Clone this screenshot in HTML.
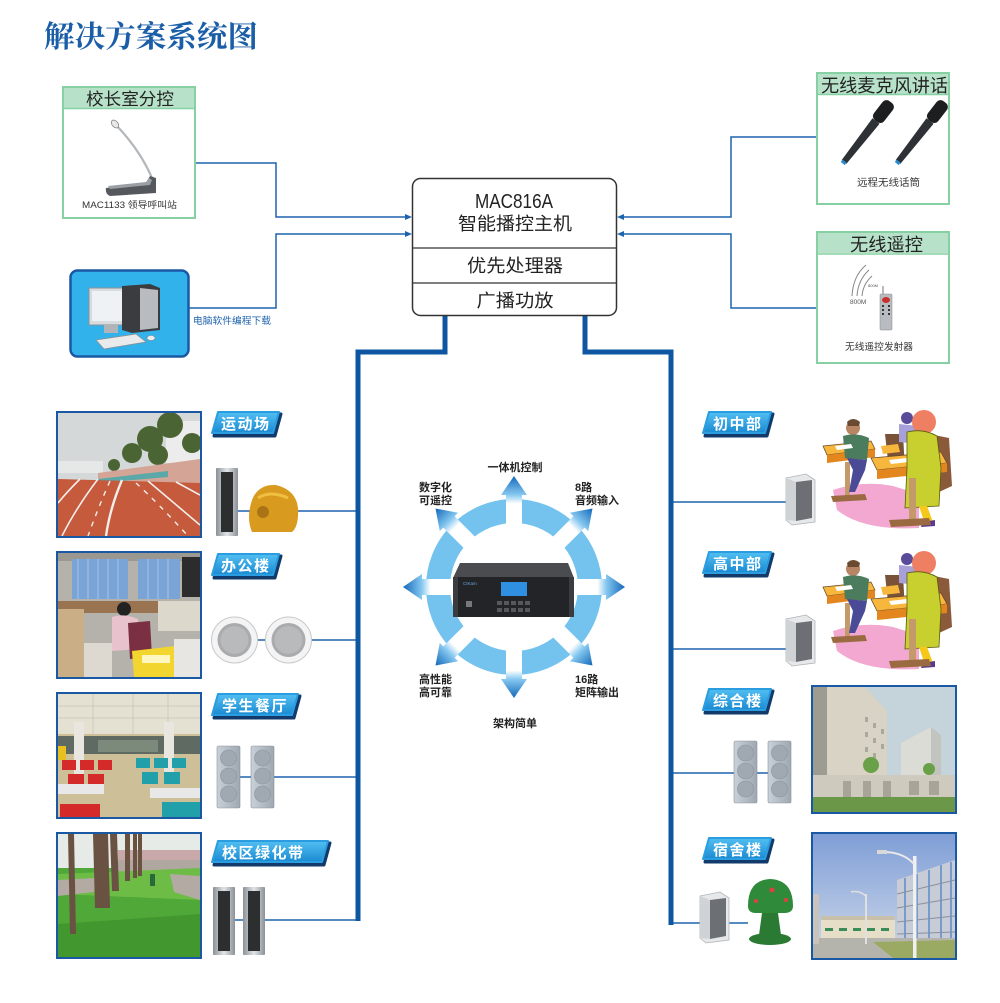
<!DOCTYPE html>
<html><head><meta charset="utf-8">
<style>
html,body{margin:0;padding:0;background:#fff;}
svg{display:block;}
text{font-family:"Liberation Sans","Noto Sans CJK SC",sans-serif;}
</style></head>
<body>
<svg width="1000" height="1003" viewBox="0 0 1000 1003" xmlns="http://www.w3.org/2000/svg">
<defs>
  <linearGradient id="tagg" x1="0" y1="0" x2="0" y2="1">
    <stop offset="0" stop-color="#52bff2"/><stop offset="1" stop-color="#1a8ad2"/>
  </linearGradient>
  <linearGradient id="arrg" gradientUnits="userSpaceOnUse" x1="56" y1="0" x2="111" y2="0">
    <stop offset="0" stop-color="#ffffff"/><stop offset="0.5" stop-color="#ffffff"/>
    <stop offset="0.66" stop-color="#86c8f0"/><stop offset="1" stop-color="#1268ba"/>
  </linearGradient>
  <linearGradient id="sky2" x1="0" y1="0" x2="0" y2="1">
    <stop offset="0" stop-color="#7f9ed6"/><stop offset="1" stop-color="#cfdaea"/>
  </linearGradient>
  <linearGradient id="silver" x1="0" y1="0" x2="1" y2="0">
    <stop offset="0" stop-color="#8a9096"/><stop offset="0.5" stop-color="#e2e6ea"/><stop offset="1" stop-color="#8a9096"/>
  </linearGradient>
  <linearGradient id="boxspk" x1="0" y1="0" x2="1" y2="0">
    <stop offset="0" stop-color="#c9d0d8"/><stop offset="1" stop-color="#9ea8b2"/>
  </linearGradient>
  <g id="arrow"><path d="M56,-8 L92,-8 L92,-13 L111,0 L92,13 L92,8 L56,8 Z" fill="url(#arrg)"/></g>
  <g id="classroom">
    <path d="M10,82 Q40,72 70,78 L96,86 L96,120 Q40,123 14,102 Z" fill="#f2a8d0"/>
    <path d="M106,26 L126,30 L129,78 L116,84 Z" fill="#8a5a3a"/>
    <path d="M62,26 L80,26 L82,62 L66,62 Z" fill="#7a5238"/>
    <path d="M0,38 L48,33 L52,41 L4,47 Z" fill="#f7b73c" stroke="#6a4a2a" stroke-width="0.8"/>
    <path d="M4,47 L52,41 L52,49 L4,55 Z" fill="#e3861e"/>
    <rect x="22" y="54" width="5" height="36" fill="#c59a6a"/>
    <path d="M8,88 L42,86 L44,92 L10,94 Z" fill="#9a6a40"/>
    <circle cx="30" cy="20" r="7" fill="#b88664"/>
    <path d="M24,14 Q30,8 37,14 L36,18 L25,18 Z" fill="#6a4a30"/>
    <path d="M20,28 Q33,24 46,30 L44,52 L22,50 Z" fill="#4b7c5e"/>
    <path d="M24,50 L44,52 L42,62 L32,84 L26,84 L30,62 Z" fill="#4a4a96"/>
    <circle cx="84" cy="10" r="6" fill="#5a4a9a"/>
    <path d="M76,16 L96,18 L96,36 L76,34 Z" fill="#a8a0d8"/>
    <path d="M58,38 L75,36 L77,44 L60,46 Z" fill="#f7b73c"/>
    <path d="M48,50 L118,44 L124,55 L54,62 Z" fill="#f7b73c" stroke="#6a4a2a" stroke-width="0.8"/>
    <path d="M54,62 L124,55 L124,64 L54,71 Z" fill="#e3861e"/>
    <path d="M66,52 L84,50 L86,54 L68,56 Z" fill="#ffffff"/>
    <path d="M12,38 L28,36 L30,40 L14,42 Z" fill="#ffffff"/>
    <circle cx="101" cy="14" r="12" fill="#ef7f62"/>
    <path d="M84,24 Q100,20 114,28 L118,60 L116,98 L82,100 L84,60 Z" fill="#c7d02e" stroke="#5a5a10" stroke-width="0.8"/>
    <path d="M96,98 L104,98 L110,114 L102,116 Z" fill="#f5c81a"/>
    <path d="M100,114 L112,112 L112,118 L98,119 Z" fill="#5a3a8a"/>
    <rect x="86" y="70" width="7" height="44" fill="#c59a6a"/>
    <path d="M66,112 L106,110 L108,117 L68,119 Z" fill="#9a6a40"/>
  </g>
  <g id="wallspk">
    <path d="M2,4 L22,0 L31,6 L31,48 L8,51 L2,46 Z" fill="#e6e8ea" stroke="#b0b4b8" stroke-width="0.8"/>
    <path d="M12,8 L28,6 L28,44 L12,47 Z" fill="#6c7074"/>
    <path d="M2,4 L12,8 L12,47 L2,46 Z" fill="#d0d3d6"/>
  </g>
  <g id="colbox">
    <rect x="0" y="0" width="23" height="62" rx="1.5" fill="url(#boxspk)" stroke="#8a949e" stroke-width="0.6"/>
    <circle cx="11.5" cy="12" r="8" fill="#a0a8b2" stroke="#8a929c" stroke-width="0.6"/>
    <circle cx="11.5" cy="30" r="8" fill="#a0a8b2" stroke="#8a929c" stroke-width="0.6"/>
    <circle cx="11.5" cy="48" r="8" fill="#a0a8b2" stroke="#8a929c" stroke-width="0.6"/>
  </g>
  <g id="colspk">
    <rect x="0" y="0" width="22" height="68" rx="1" fill="url(#silver)"/>
    <rect x="5" y="4" width="12" height="60" fill="#2c2e30"/>
  </g>
  <g id="ceil">
    <circle cx="0" cy="0" r="23" fill="#f4f4f4" stroke="#c8c8c8" stroke-width="1"/>
    <circle cx="0" cy="0" r="17" fill="#a9abad"/>
    <circle cx="0" cy="0" r="14" fill="#b8babc"/>
  </g>
</defs>

<!-- Title -->
<text x="44" y="47" font-size="30" font-weight="bold" fill="#1b5ea8" textLength="214" lengthAdjust="spacingAndGlyphs" style="font-family:'Liberation Serif','Noto Serif CJK SC',serif">解决方案系统图</text>

<!-- thin connectors -->
<g fill="none" stroke="#1e63ae" stroke-width="1.5">
  <polyline points="195,163 276,163 276,217 408,217"/>
  <polyline points="189,308 276,308 276,234 408,234"/>
  <polyline points="817,137 731,137 731,217 621,217"/>
  <polyline points="818,308 731,308 731,234 621,234"/>
  <line x1="237" y1="511" x2="358" y2="511"/>
  <line x1="258" y1="640" x2="358" y2="640"/>
  <line x1="240" y1="777" x2="358" y2="777"/>
  <line x1="235" y1="920" x2="358" y2="920"/>
  <line x1="671" y1="502" x2="786" y2="502"/>
  <line x1="671" y1="649" x2="786" y2="649"/>
  <line x1="671" y1="773" x2="768" y2="773"/>
  <line x1="671" y1="923" x2="748" y2="923"/>
</g>
<g fill="#1e63ae">
  <path d="M412,217 L405,214 L405,220 Z"/>
  <path d="M412,234 L405,231 L405,237 Z"/>
  <path d="M617,217 L624,214 L624,220 Z"/>
  <path d="M617,234 L624,231 L624,237 Z"/>
</g>
<!-- thick connectors -->
<g fill="none" stroke="#0e56a2" stroke-width="5">
  <polyline points="445,316 445,352 358,352 358,921"/>
  <polyline points="585,316 585,352 671,352 671,925"/>
</g>

<!-- Host box -->
<rect x="412.5" y="178.5" width="204" height="137" rx="8" fill="#fff" stroke="#333" stroke-width="1.5"/>
<line x1="413" y1="248" x2="616" y2="248" stroke="#333" stroke-width="1.3"/>
<line x1="413" y1="283" x2="616" y2="283" stroke="#333" stroke-width="1.3"/>
<text x="514" y="208" font-size="20" text-anchor="middle" fill="#222" textLength="78" lengthAdjust="spacingAndGlyphs">MAC816A</text>
<text x="515" y="230" font-size="18" text-anchor="middle" fill="#222" textLength="114" lengthAdjust="spacingAndGlyphs">智能播控主机</text>
<text x="515" y="272" font-size="18" text-anchor="middle" fill="#222" textLength="96" lengthAdjust="spacingAndGlyphs">优先处理器</text>
<text x="515" y="307" font-size="18" text-anchor="middle" fill="#222" textLength="77" lengthAdjust="spacingAndGlyphs">广播功放</text>

<!-- 校长室分控 -->
<rect x="63" y="87" width="132" height="131" fill="#fff" stroke="#86d0a4" stroke-width="2"/>
<rect x="64" y="88" width="130" height="20" fill="#b7e2c9"/>
<line x1="63" y1="108.5" x2="195" y2="108.5" stroke="#86d0a4" stroke-width="1.5"/>
<text x="86" y="105" font-size="17" fill="#222" textLength="88" lengthAdjust="spacingAndGlyphs">校长室分控</text>
<path d="M116,125 Q140,150 152,178" fill="none" stroke="#b4b8bc" stroke-width="2.2"/>
<ellipse cx="115" cy="124" rx="3" ry="4.5" transform="rotate(-40 115 124)" fill="#e8e8e8" stroke="#888" stroke-width="0.8"/>
<path d="M106,188 L146,183 L150,176 L156,178 L156,193 L110,196 Q105,194 106,188 Z" fill="#55595e"/>
<path d="M108,186 L146,182 L149,178 L152,180 L150,185 L110,189 Z" fill="#9aa0a6"/>
<text x="82" y="208" font-size="9" fill="#333" textLength="95" lengthAdjust="spacingAndGlyphs">MAC1133 领导呼叫站</text>

<!-- computer -->
<rect x="70.5" y="270.5" width="118" height="86" rx="7" fill="#32b2ea" stroke="#1a58a4" stroke-width="2.5"/>
<rect x="89" y="288" width="43" height="37" fill="#d8dcde" stroke="#8a9096" stroke-width="1"/>
<rect x="92" y="291" width="37" height="30" fill="#eef2f4"/>
<rect x="104" y="325" width="14" height="8" fill="#b0b4b8"/>
<path d="M122,286 L150,284 L160,288 L160,330 L132,333 L122,330 Z" fill="#3a3c40"/>
<path d="M140,288 L158,290 L158,328 L140,330 Z" fill="#b8bcc0"/>
<path d="M96,340 L136,334 L146,342 L104,349 Z" fill="#e8eaec" stroke="#8a9096" stroke-width="0.8"/>
<ellipse cx="151" cy="338" rx="4" ry="2.5" fill="#eee" stroke="#888" stroke-width="0.6"/>
<text x="193" y="324" font-size="9.5" fill="#1e63ae" textLength="78" lengthAdjust="spacingAndGlyphs">电脑软件编程下载</text>

<!-- 无线麦克风讲话 -->
<rect x="817" y="73" width="132" height="131" fill="#fff" stroke="#86d0a4" stroke-width="2"/>
<rect x="818" y="74" width="130" height="20" fill="#b7e2c9"/>
<line x1="817" y1="94.5" x2="949" y2="94.5" stroke="#86d0a4" stroke-width="1.5"/>
<text x="821" y="92" font-size="18" fill="#222" textLength="127" lengthAdjust="spacingAndGlyphs">无线麦克风讲话</text>
<g transform="translate(844,162) rotate(-52)">
  <path d="M0,-3 L52,-4.5 L52,4.5 L0,3 Z" fill="#2e3236"/>
  <rect x="52" y="-6.5" width="24" height="13" rx="5" fill="#1c1e20"/>
  <rect x="-2" y="-2.5" width="3" height="5" fill="#2a8ad0"/>
</g>
<g transform="translate(898,162) rotate(-52)">
  <path d="M0,-3 L52,-4.5 L52,4.5 L0,3 Z" fill="#2e3236"/>
  <rect x="52" y="-6.5" width="24" height="13" rx="5" fill="#1c1e20"/>
  <rect x="-2" y="-2.5" width="3" height="5" fill="#2a8ad0"/>
</g>
<text x="857" y="186" font-size="10" fill="#333" textLength="63" lengthAdjust="spacingAndGlyphs">远程无线话筒</text>

<!-- 无线遥控 -->
<rect x="817" y="232" width="132" height="131" fill="#fff" stroke="#86d0a4" stroke-width="2"/>
<rect x="818" y="233" width="130" height="20" fill="#b7e2c9"/>
<line x1="817" y1="254" x2="949" y2="254" stroke="#86d0a4" stroke-width="1.5"/>
<text x="850" y="251" font-size="18" fill="#222" textLength="73" lengthAdjust="spacingAndGlyphs">无线遥控</text>
<g fill="none" stroke="#888" stroke-width="1">
  <path d="M852,296 Q853,276 866,265"/>
  <path d="M857,296 Q858,280 869,270"/>
  <path d="M862,296 Q863,284 872,276"/>
</g>
<text x="850" y="304" font-size="6.5" fill="#555">800M</text>
<text x="868" y="287" font-size="4" fill="#555">800M</text>
<line x1="883" y1="295" x2="883" y2="286" stroke="#777" stroke-width="1"/>
<rect x="880" y="294" width="12" height="36" rx="1" fill="#b8bcc0" stroke="#888" stroke-width="0.5"/>
<ellipse cx="886" cy="300" rx="4" ry="3" fill="#c8302a"/>
<g fill="#333"><rect x="882" y="305" width="2" height="2"/><rect x="888" y="305" width="2" height="2"/><rect x="882" y="309" width="2" height="2"/><rect x="888" y="309" width="2" height="2"/><rect x="882" y="313" width="2" height="2"/><rect x="888" y="313" width="2" height="2"/></g>
<text x="845" y="350" font-size="9.5" fill="#333" textLength="68" lengthAdjust="spacingAndGlyphs">无线遥控发射器</text>

<!-- Center ring -->
<circle cx="514" cy="587" r="76" fill="none" stroke="#74c3ef" stroke-width="24"/>
<g transform="translate(514,587)">
  <use href="#arrow" transform="rotate(-90)"/>
  <use href="#arrow" transform="rotate(-45)"/>
  <use href="#arrow" transform="rotate(0)"/>
  <use href="#arrow" transform="rotate(45)"/>
  <use href="#arrow" transform="rotate(90)"/>
  <use href="#arrow" transform="rotate(135)"/>
  <use href="#arrow" transform="rotate(180)"/>
  <use href="#arrow" transform="rotate(225)"/>
</g>
<!-- device -->
<path d="M460,563 L568,563 L574,578 L453,578 Z" fill="#4a4c50"/>
<rect x="453" y="577" width="121" height="40" fill="#232428"/>
<rect x="453" y="577" width="5" height="40" fill="#3a3c40"/>
<rect x="569" y="577" width="5" height="40" fill="#3a3c40"/>
<rect x="501" y="582" width="26" height="14" fill="#2f8fe0"/>
<g fill="#55585c">
  <rect x="497" y="601" width="5" height="4"/><rect x="504" y="601" width="5" height="4"/><rect x="511" y="601" width="5" height="4"/><rect x="518" y="601" width="5" height="4"/><rect x="525" y="601" width="5" height="4"/>
  <rect x="497" y="608" width="5" height="4"/><rect x="504" y="608" width="5" height="4"/><rect x="511" y="608" width="5" height="4"/><rect x="518" y="608" width="5" height="4"/><rect x="525" y="608" width="5" height="4"/>
</g>
<rect x="466" y="601" width="6" height="6" fill="#777"/>
<text x="463" y="585" font-size="4.5" fill="#6aa0d8">CIKam</text>

<!-- center labels -->
<g font-size="11" font-weight="bold" fill="#222">
  <text x="515" y="471" text-anchor="middle">一体机控制</text>
  <text x="419" y="491">数字化</text>
  <text x="419" y="504">可遥控</text>
  <text x="575" y="491">8路</text>
  <text x="575" y="504">音频输入</text>
  <text x="419" y="683">高性能</text>
  <text x="419" y="696">高可靠</text>
  <text x="575" y="683">16路</text>
  <text x="575" y="696">矩阵输出</text>
  <text x="515" y="727" text-anchor="middle">架构简单</text>
</g>

<!-- Tags -->
<g font-size="15" font-weight="bold" fill="#fff" letter-spacing="1.5">
  <g transform="translate(212,412)"><path d="M8,2 L69,2 L63,24 L2,24 Z" fill="#123a6a" stroke="#123a6a" stroke-width="3" stroke-linejoin="round"/><path d="M6,0 L67,0 L61,21 L0,21 Z" fill="url(#tagg)" stroke="#2a9de0" stroke-width="2" stroke-linejoin="round"/><text x="9" y="17">运动场</text></g>
  <g transform="translate(212,554)"><path d="M8,2 L69,2 L63,24 L2,24 Z" fill="#123a6a" stroke="#123a6a" stroke-width="3" stroke-linejoin="round"/><path d="M6,0 L67,0 L61,21 L0,21 Z" fill="url(#tagg)" stroke="#2a9de0" stroke-width="2" stroke-linejoin="round"/><text x="9" y="17">办公楼</text></g>
  <g transform="translate(212,694)"><path d="M8,2 L88,2 L82,24 L2,24 Z" fill="#123a6a" stroke="#123a6a" stroke-width="3" stroke-linejoin="round"/><path d="M6,0 L86,0 L80,21 L0,21 Z" fill="url(#tagg)" stroke="#2a9de0" stroke-width="2" stroke-linejoin="round"/><text x="10" y="17">学生餐厅</text></g>
  <g transform="translate(212,841)"><path d="M8,2 L118,2 L112,24 L2,24 Z" fill="#123a6a" stroke="#123a6a" stroke-width="3" stroke-linejoin="round"/><path d="M6,0 L116,0 L110,21 L0,21 Z" fill="url(#tagg)" stroke="#2a9de0" stroke-width="2" stroke-linejoin="round"/><text x="10" y="17">校区绿化带</text></g>
  <g transform="translate(703,412)"><path d="M8,2 L70,2 L64,24 L2,24 Z" fill="#123a6a" stroke="#123a6a" stroke-width="3" stroke-linejoin="round"/><path d="M6,0 L68,0 L62,21 L0,21 Z" fill="url(#tagg)" stroke="#2a9de0" stroke-width="2" stroke-linejoin="round"/><text x="10" y="17">初中部</text></g>
  <g transform="translate(703,552)"><path d="M8,2 L70,2 L64,24 L2,24 Z" fill="#123a6a" stroke="#123a6a" stroke-width="3" stroke-linejoin="round"/><path d="M6,0 L68,0 L62,21 L0,21 Z" fill="url(#tagg)" stroke="#2a9de0" stroke-width="2" stroke-linejoin="round"/><text x="10" y="17">高中部</text></g>
  <g transform="translate(703,689)"><path d="M8,2 L70,2 L64,24 L2,24 Z" fill="#123a6a" stroke="#123a6a" stroke-width="3" stroke-linejoin="round"/><path d="M6,0 L68,0 L62,21 L0,21 Z" fill="url(#tagg)" stroke="#2a9de0" stroke-width="2" stroke-linejoin="round"/><text x="10" y="17">综合楼</text></g>
  <g transform="translate(703,838)"><path d="M8,2 L70,2 L64,24 L2,24 Z" fill="#123a6a" stroke="#123a6a" stroke-width="3" stroke-linejoin="round"/><path d="M6,0 L68,0 L62,21 L0,21 Z" fill="url(#tagg)" stroke="#2a9de0" stroke-width="2" stroke-linejoin="round"/><text x="10" y="17">宿舍楼</text></g>
</g>

<!-- Photo: track -->
<rect x="56" y="411" width="146" height="127" fill="#1a58a4"/>
<svg x="58" y="413" width="142" height="123" viewBox="0 0 142 123">
  <rect width="142" height="123" fill="#d4d8d8"/>
  <rect x="0" y="48" width="45" height="12" fill="#e6e8e8"/>
  <rect x="108" y="8" width="34" height="42" fill="#ececec"/>
  <g fill="#4a6434"><circle cx="92" cy="26" r="13"/><circle cx="112" cy="12" r="13"/><circle cx="74" cy="40" r="10"/><circle cx="134" cy="30" r="10"/><circle cx="100" cy="42" r="10"/><circle cx="56" cy="52" r="6"/></g>
  <path d="M40,60 L142,46 L142,72 L40,70 Z" fill="#d4a496"/>
  <path d="M40,66 L110,58 L110,64 L40,70 Z" fill="#5aa8a8"/>
  <path d="M0,66 L142,70 L142,123 L0,123 Z" fill="#c55a3d"/>
  <g fill="none" stroke="#f2eeea" stroke-width="1.6">
    <path d="M40,66 Q18,95 4,123"/><path d="M64,67 Q52,95 48,123" stroke-width="2.4"/><path d="M90,68 L142,112"/><path d="M118,69 L142,82"/><path d="M22,66 Q8,80 0,90"/>
  </g>
  <g stroke="#f2eeea" stroke-width="1.4" stroke-dasharray="5 6" fill="none"><path d="M78,70 Q100,90 130,123"/><path d="M52,68 Q40,95 30,123"/></g>
</svg>
<use href="#colspk" x="216" y="468"/>
<path d="M252,500 Q258,484 276,485 Q296,490 298,508 Q299,526 292,532 L252,532 Q246,518 252,500 Z" fill="#d99a20"/>
<path d="M258,498 Q270,490 288,498" fill="none" stroke="#f0c040" stroke-width="3"/>
<circle cx="263" cy="512" r="6" fill="#8a5a10" opacity="0.6"/>

<!-- Photo: office -->
<rect x="56" y="551" width="146" height="128" fill="#1a58a4"/>
<svg x="58" y="553" width="142" height="124" viewBox="0 0 142 124">
  <rect width="142" height="124" fill="#b4b2aa"/>
  <rect x="0" y="0" width="142" height="8" fill="#9a9890"/>
  <rect x="14" y="6" width="56" height="40" fill="#7aa4d6"/>
  <rect x="80" y="6" width="42" height="40" fill="#7aa4d6"/>
  <g stroke="#a6c4e8" stroke-width="1"><line x1="20" y1="6" x2="20" y2="46"/><line x1="30" y1="6" x2="30" y2="46"/><line x1="40" y1="6" x2="40" y2="46"/><line x1="50" y1="6" x2="50" y2="46"/><line x1="60" y1="6" x2="60" y2="46"/><line x1="90" y1="6" x2="90" y2="46"/><line x1="100" y1="6" x2="100" y2="46"/><line x1="110" y1="6" x2="110" y2="46"/></g>
  <rect x="124" y="4" width="18" height="40" fill="#2c2c2c"/>
  <rect x="0" y="48" width="142" height="12" fill="#9a7450"/>
  <rect x="0" y="56" width="26" height="68" fill="#c9ae86"/>
  <rect x="100" y="48" width="42" height="30" fill="#ddd8cc"/>
  <circle cx="66" cy="56" r="7" fill="#222"/>
  <path d="M54,64 Q66,60 80,66 L82,96 L54,98 Z" fill="#e8c2cc"/>
  <path d="M70,70 L92,68 L94,104 L72,106 Z" fill="#7a3042"/>
  <rect x="26" y="90" width="28" height="34" fill="#ddd8d0"/>
  <path d="M74,98 L126,92 L128,124 L76,124 Z" fill="#f2d52e"/>
  <rect x="84" y="102" width="28" height="8" fill="#fff6c0"/>
  <rect x="116" y="86" width="26" height="38" fill="#e8e6e2"/>
</svg>
<use href="#ceil" x="234.5" y="640"/>
<use href="#ceil" x="288.5" y="640"/>

<!-- Photo: cafeteria -->
<rect x="56" y="692" width="146" height="127" fill="#1a58a4"/>
<svg x="58" y="694" width="142" height="123" viewBox="0 0 142 123">
  <rect width="142" height="123" fill="#cdbf98"/>
  <rect x="0" y="0" width="142" height="40" fill="#e4e0d2"/>
  <g stroke="#cfcabb" stroke-width="1"><line x1="0" y1="12" x2="142" y2="12"/><line x1="0" y1="24" x2="142" y2="24"/><line x1="35" y1="0" x2="35" y2="40"/><line x1="75" y1="0" x2="75" y2="40"/><line x1="110" y1="0" x2="110" y2="40"/></g>
  <rect x="0" y="42" width="142" height="18" fill="#5e6a62"/>
  <rect x="40" y="46" width="60" height="12" fill="#7c8a7c"/>
  <rect x="16" y="28" width="10" height="62" fill="#e8e6de"/>
  <rect x="106" y="28" width="10" height="62" fill="#e8e6de"/>
  <g fill="#d42a2a"><rect x="4" y="66" width="14" height="10"/><rect x="22" y="66" width="14" height="10"/><rect x="40" y="66" width="14" height="10"/><rect x="10" y="80" width="16" height="12"/><rect x="30" y="80" width="16" height="12"/><rect x="2" y="110" width="40" height="13"/></g>
  <g fill="#21a0aa"><rect x="78" y="64" width="14" height="10"/><rect x="96" y="64" width="14" height="10"/><rect x="114" y="64" width="14" height="10"/><rect x="84" y="78" width="16" height="12"/><rect x="106" y="78" width="16" height="12"/><rect x="104" y="108" width="38" height="15"/></g>
  <rect x="0" y="90" width="46" height="10" fill="#e8e8e8"/>
  <rect x="92" y="94" width="50" height="10" fill="#e8e8e8"/>
  <rect x="0" y="52" width="8" height="14" fill="#e8c020"/>
</svg>
<use href="#colbox" x="217" y="746"/>
<use href="#colbox" x="251" y="746"/>

<!-- Photo: green belt -->
<rect x="56" y="832" width="146" height="127" fill="#1a58a4"/>
<svg x="58" y="834" width="142" height="123" viewBox="0 0 142 123">
  <rect width="142" height="123" fill="#4fa838"/>
  <rect x="0" y="0" width="142" height="34" fill="#e6ebe8"/>
  <rect x="60" y="16" width="82" height="12" fill="#c8a8a8"/>
  <rect x="60" y="26" width="82" height="12" fill="#b0a8a0"/>
  <path d="M0,40 L142,34 L142,66 L0,60 Z" fill="#6cbc46"/>
  <path d="M0,46 L38,44 L36,58 L0,62 Z" fill="#b4aaa4"/>
  <path d="M112,40 L142,42 L142,66 L116,58 Z" fill="#b4aaa4"/>
  <path d="M0,90 L142,80 L142,123 L0,123 Z" fill="#42982e"/>
  <g fill="#6a5242">
    <path d="M10,0 L16,0 L18,100 L12,100 Z"/>
    <path d="M35,0 L50,0 L52,74 L37,74 Z"/>
    <path d="M52,0 L59,0 L61,57 L54,57 Z"/>
    <rect x="67" y="0" width="5" height="47"/>
    <rect x="75" y="0" width="4" height="44"/>
    <rect x="80" y="0" width="4" height="42"/>
  </g>
  <rect x="92" y="40" width="5" height="12" fill="#2a6a3a"/>
</svg>
<use href="#colspk" x="213" y="887"/>
<use href="#colspk" x="243" y="887"/>

<!-- Classrooms -->
<use href="#classroom" x="823" y="408"/>
<use href="#classroom" x="823" y="549"/>
<use href="#wallspk" x="784" y="474"/>
<use href="#wallspk" x="784" y="615"/>

<!-- Photo: 综合楼 -->
<rect x="811" y="685" width="146" height="129" fill="#1a58a4"/>
<svg x="813" y="687" width="142" height="125" viewBox="0 0 142 125">
  <rect width="142" height="125" fill="#c4d4da"/>
  <path d="M10,0 L52,0 L74,24 L74,92 L10,96 Z" fill="#d8d3c4"/>
  <path d="M0,0 L14,0 L14,96 L0,98 Z" fill="#9c9c92"/>
  <g fill="#a8a89c"><rect x="52" y="30" width="3" height="5"/><rect x="60" y="36" width="3" height="5"/><rect x="52" y="45" width="3" height="5"/><rect x="60" y="51" width="3" height="5"/><rect x="52" y="60" width="3" height="5"/><rect x="60" y="66" width="3" height="5"/><rect x="68" y="42" width="3" height="5"/><rect x="68" y="57" width="3" height="5"/></g>
  <path d="M88,56 L118,40 L128,48 L128,104 L88,104 Z" fill="#dcdcd6"/>
  <path d="M118,40 L128,48 L128,104 L118,104 Z" fill="#c2c4c0"/>
  <rect x="0" y="88" width="142" height="24" fill="#cfcabe"/>
  <g fill="#a8a498"><rect x="30" y="94" width="8" height="16"/><rect x="50" y="94" width="8" height="16"/><rect x="70" y="94" width="8" height="16"/><rect x="96" y="94" width="10" height="14"/><rect x="116" y="94" width="10" height="14"/></g>
  <rect x="0" y="110" width="142" height="15" fill="#6a9848"/>
  <circle cx="58" cy="78" r="8" fill="#6aa048"/>
  <circle cx="116" cy="82" r="6" fill="#6aa048"/>
</svg>
<use href="#colbox" x="734" y="741"/>
<use href="#colbox" x="768" y="741"/>

<!-- Photo: 宿舍楼 -->
<rect x="811" y="832" width="146" height="128" fill="#1a58a4"/>
<svg x="813" y="834" width="142" height="124" viewBox="0 0 142 124">
  <rect width="142" height="124" fill="url(#sky2)"/>
  <path d="M84,46 L142,26 L142,112 L84,110 Z" fill="#c8ccd6"/>
  <g stroke="#5a8ccc" stroke-width="1.5"><line x1="92" y1="44" x2="92" y2="110"/><line x1="104" y1="40" x2="104" y2="110"/><line x1="116" y1="36" x2="116" y2="111"/><line x1="128" y1="31" x2="128" y2="111"/><line x1="138" y1="28" x2="138" y2="112"/></g>
  <g stroke="#8890a0" stroke-width="1"><line x1="84" y1="60" x2="142" y2="46"/><line x1="84" y1="74" x2="142" y2="64"/><line x1="84" y1="88" x2="142" y2="82"/><line x1="84" y1="100" x2="142" y2="98"/></g>
  <rect x="8" y="82" width="74" height="26" fill="#e6dec6"/>
  <rect x="8" y="82" width="74" height="4" fill="#c8c0a8"/>
  <g fill="#3a8a5a"><rect x="12" y="94" width="8" height="3"/><rect x="26" y="94" width="8" height="3"/><rect x="40" y="94" width="8" height="3"/><rect x="54" y="94" width="8" height="3"/><rect x="68" y="94" width="8" height="3"/></g>
  <path d="M0,104 L142,104 L142,124 L0,124 Z" fill="#b4b4ac"/>
  <path d="M60,108 L142,106 L142,124 L80,124 Z" fill="#9aaa62"/>
  <rect x="100" y="22" width="3.5" height="102" fill="#f0f0f0"/>
  <path d="M101,30 Q90,18 70,18" fill="none" stroke="#e8e8e8" stroke-width="2"/>
  <rect x="64" y="16" width="10" height="4" fill="#d8d8d8"/>
  <rect x="52" y="60" width="2" height="50" fill="#e0e0e0"/>
  <path d="M53,62 Q46,56 38,58" fill="none" stroke="#e0e0e0" stroke-width="1.5"/>
  <rect x="0" y="60" width="6" height="50" fill="#c8c4bc"/>
</svg>
<use href="#wallspk" x="698" y="892"/>
<path d="M748,906 Q748,880 770,879 Q793,880 793,906 Q793,913 784,913 L756,913 Q748,913 748,906 Z" fill="#2f8a3a"/>
<path d="M762,913 L778,913 L781,935 L759,935 Z" fill="#2a7a34"/>
<ellipse cx="770" cy="939" rx="21" ry="6" fill="#2a7a34"/>
<circle cx="772" cy="890" r="2.5" fill="#e04040"/><circle cx="756" cy="901" r="2" fill="#e04040"/><circle cx="786" cy="900" r="2" fill="#e04040"/>

</svg>
</body></html>
